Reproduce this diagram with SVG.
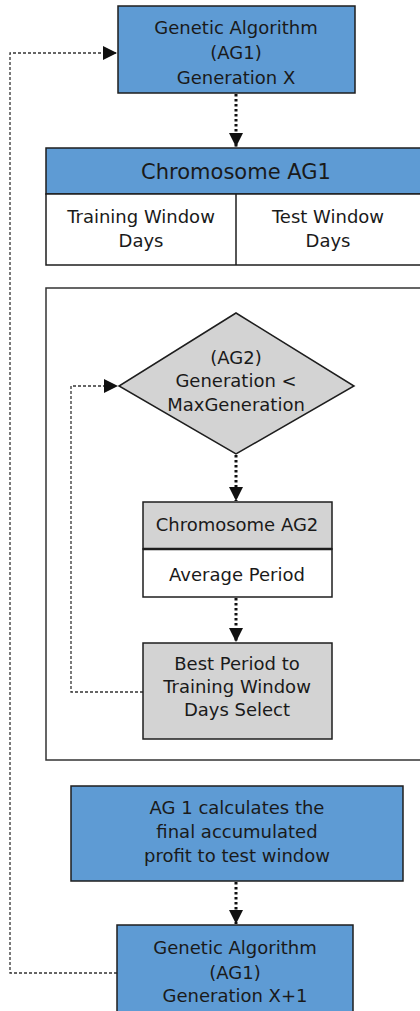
<svg xmlns="http://www.w3.org/2000/svg" width="420" height="1011" viewBox="0 0 420 1011">
<style>
.blue{fill:#5e9bd4;stroke:#1e1e1e;stroke-width:1.5}
.gray{fill:#d3d3d3;stroke:#1e1e1e;stroke-width:1.5}
.white{fill:#ffffff;stroke:#1e1e1e;stroke-width:1.5}
.frame{fill:none;stroke:#333;stroke-width:1.5}
text{font-family:"DejaVu Sans","Liberation Sans",sans-serif;font-size:18px;fill:#1a1a1a;text-anchor:middle;dominant-baseline:central}
.big{font-size:21px}
.dot{fill:none;stroke:#111;stroke-width:3;stroke-dasharray:2.5 2.5}
.dash{fill:none;stroke:#333;stroke-width:1.3;stroke-dasharray:3 2}
</style>
<defs>
<marker id="ah" markerUnits="userSpaceOnUse" markerWidth="16" markerHeight="16" refX="14" refY="7" orient="auto">
<path d="M0,0 L14,7 L0,14 Z" fill="#111"/>
</marker>
</defs>
<rect x="0" y="0" width="420" height="1011" fill="#fff"/>
<g id="container"><rect class="frame" x="46" y="288" width="380" height="472"/></g>
<g id="connectors">
<path class="dot" d="M236,94 V147" marker-end="url(#ah)"/>
<path class="dot" d="M236,455 V501" marker-end="url(#ah)"/>
<path class="dot" d="M236,598 V642" marker-end="url(#ah)"/>
<path class="dot" d="M236,882 V924" marker-end="url(#ah)"/>
<path class="dash" d="M143,692 H71 V386 H118" marker-end="url(#ah)"/>
<path class="dash" d="M117,973 H10 V53 H117" marker-end="url(#ah)"/>
</g>
<g id="ag1-gen-x">
<rect class="blue" x="118" y="6" width="237" height="87"/>
<text x="236" y="27">Genetic Algorithm</text>
<text x="236" y="52">(AG1)</text>
<text x="236" y="77">Generation X</text>
</g>
<g id="chromosome-ag1">
<rect class="blue" x="46" y="148" width="380" height="46"/>
<rect class="white" x="46" y="194" width="380" height="71"/>
<line x1="236" y1="194" x2="236" y2="265" stroke="#1e1e1e" stroke-width="1.5"/>
<text class="big" x="236" y="172">Chromosome AG1</text>
<text x="141" y="216">Training Window</text>
<text x="141" y="240">Days</text>
<text x="328" y="216">Test Window</text>
<text x="328" y="240">Days</text>
</g>
<g id="ag2-decision">
<polygon class="gray" points="236,313 354,386 236,454 119,386"/>
<text x="236" y="357">(AG2)</text>
<text x="236" y="380">Generation &lt;</text>
<text x="236" y="404">MaxGeneration</text>
</g>
<g id="chromosome-ag2">
<rect class="gray" x="143" y="502" width="189" height="47"/>
<rect class="white" x="143" y="549" width="189" height="48"/>
<line x1="143" y1="549" x2="332" y2="549" stroke="#1e1e1e" stroke-width="2.5"/>
<text x="237" y="524">Chromosome AG2</text>
<text x="237" y="574">Average Period</text>
</g>
<g id="best-period">
<rect class="gray" x="143" y="643" width="189" height="96"/>
<text x="237" y="663">Best Period to</text>
<text x="237" y="686">Training Window</text>
<text x="237" y="709">Days Select</text>
</g>
<g id="ag1-profit">
<rect class="blue" x="71" y="786" width="332" height="95"/>
<text x="237" y="807">AG 1 calculates the</text>
<text x="237" y="831">final accumulated</text>
<text x="237" y="855">profit to test window</text>
</g>
<g id="ag1-gen-x1">
<rect class="blue" x="117" y="925" width="236" height="100"/>
<text x="235" y="947">Genetic Algorithm</text>
<text x="235" y="972">(AG1)</text>
<text x="235" y="995">Generation X+1</text>
</g>
</svg>
